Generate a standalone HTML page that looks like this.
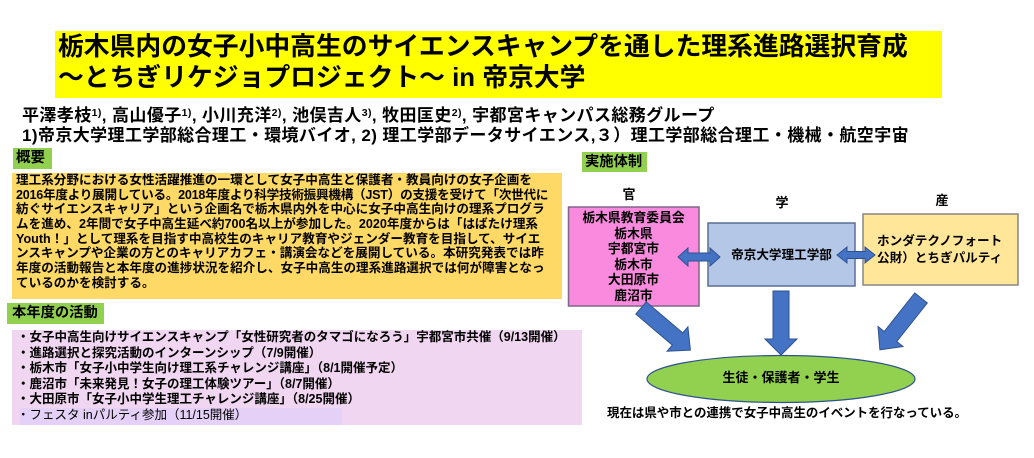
<!DOCTYPE html>
<html><head><meta charset="utf-8">
<style>
html,body{margin:0;padding:0;background:#fff;}
body{width:1034px;height:458px;position:relative;overflow:hidden;font-family:"Liberation Sans","Noto Sans CJK JP",sans-serif;font-weight:bold;color:#000;}
.a{position:absolute;white-space:nowrap;}
sup{font-size:0.62em;vertical-align:0;position:relative;top:-0.45em;}
</style></head><body>

<!-- title -->
<div class="a" style="left:55px;top:31px;width:887px;height:67px;background:#ffff00;"></div>
<div class="a" style="left:58px;top:32px;font-size:25.8px;line-height:30.5px;">栃木県内の女子小中高生のサイエンスキャンプを通した理系進路選択育成<br>～とちぎリケジョプロジェクト～ in 帝京大学</div>

<!-- authors -->
<div class="a" style="left:22px;top:106.5px;font-size:17px;line-height:18px;letter-spacing:0.4px;">平澤孝枝<sup>1)</sup>, 高山優子<sup>1)</sup>, 小川充洋<sup>2)</sup>, 池俣吉人<sup>3)</sup>, 牧田匡史<sup>2)</sup>, 宇都宮キャンパス総務グループ<br>1)帝京大学理工学部総合理工・環境バイオ, 2) 理工学部データサイエンス,３）理工学部総合理工・機械・航空宇宙</div>

<!-- 概要 -->
<div class="a" style="left:13px;top:148px;width:39px;height:21px;background:#92d050;"></div>
<div class="a" style="left:16px;top:148px;font-size:14.5px;line-height:21px;">概要</div>
<div class="a" style="left:12px;top:173px;width:550px;height:126px;background:#ffd966;"></div>
<div class="a" style="left:16px;top:173px;font-size:12.6px;line-height:14.67px;">理工系分野における女性活躍推進の一環として女子中高生と保護者・教員向けの女子企画を<br><span style="letter-spacing:-0.25px;">2016年度より展開している。2018年度より科学技術振興機構（JST）の支援を受けて「次世代に</span><br>紡ぐサイエンスキャリア」という企画名で栃木県内外を中心に女子中高生向けの理系プログラ<br>ムを進め、2年間で女子中高生延べ約700名以上が参加した。2020年度からは「はばたけ理系<br>Youth！」として理系を目指す中高校生のキャリア教育やジェンダー教育を目指して、サイエ<br>ンスキャンプや企業の方とのキャリアカフェ・講演会などを展開している。本研究発表では昨<br>年度の活動報告と本年度の進捗状況を紹介し、女子中高生の理系進路選択では何が障害となっ<br>ているのかを検討する。</div>

<!-- 本年度の活動 -->
<div class="a" style="left:7px;top:303px;width:97px;height:21px;background:#92d050;"></div>
<div class="a" style="left:12px;top:303px;font-size:14.3px;line-height:21px;">本年度の活動</div>
<div class="a" style="left:12px;top:330px;width:570px;height:95px;background:#f1d6f1;"></div>
<div class="a" style="left:20px;top:408px;width:322px;height:17px;background:#e5d0f7;"></div>
<div class="a" style="left:17px;top:330px;font-size:12.5px;line-height:15.5px;">・女子中高生向けサイエンスキャンプ「女性研究者のタマゴになろう」宇都宮市共催（9/13開催）<br>・進路選択と探究活動のインターンシップ（7/9開催）<br>・栃木市「女子小中学生向け理工系チャレンジ講座」（8/1開催予定）<br>・鹿沼市「未来発見！女子の理工体験ツアー」（8/7開催）<br>・大田原市「女子小中学生理工チャレンジ講座」（8/25開催）<br><span style="font-weight:normal;">・フェスタ inパルティ参加（11/15開催）</span></div>

<!-- 実施体制 -->
<div class="a" style="left:582px;top:152px;width:65px;height:20px;background:#92d050;"></div>
<div class="a" style="left:585px;top:152px;font-size:14.3px;line-height:20px;">実施体制</div>

<svg class="a" style="left:0;top:0;" width="1034" height="458" viewBox="0 0 1034 458">
  <rect x="568.5" y="207" width="130.5" height="99" fill="#fa8ade" stroke="#7d6688" stroke-width="1.5"/>
  <rect x="708" y="223" width="147" height="63" fill="#b4c7e7" stroke="#5a6f94" stroke-width="1.5"/>
  <rect x="863" y="214" width="155" height="71" fill="#ffe699" stroke="#858585" stroke-width="1.5"/>
  <g fill="#4472c4" stroke="#2f528f" stroke-width="1">
    <polygon points="678,257 688,248 688,253 710,253 710,248 720,257 710,266 710,261 688,261 688,266"/>
    <polygon points="837,255 847,247 847,251.5 865,251.5 865,247 875,255 865,263 865,258.5 847,258.5 847,263"/>
    <polygon points="773,291 789,291 789,339 797,339 781,355 765,339 773,339"/>
    <polygon points="646.2,301.9 682.7,332.9 687.9,326.8 690.4,350.1 667.1,351.2 672.3,345.1 635.8,314.1"/>
    <polygon points="914.7,293 884.2,331.5 878,326.5 879.9,349.8 903,346.5 896.8,341.5 927.3,303"/>
  </g>
  <ellipse cx="781" cy="379" rx="134" ry="23.5" fill="#92d050" stroke="#2f528f" stroke-width="1.2"/>
</svg>

<div class="a" style="left:619px;top:186px;width:20px;text-align:center;font-size:13px;line-height:18px;">官</div>
<div class="a" style="left:772px;top:194px;width:20px;text-align:center;font-size:13px;line-height:18px;">学</div>
<div class="a" style="left:932px;top:192px;width:20px;text-align:center;font-size:13px;line-height:18px;">産</div>

<div class="a" style="left:568px;top:210px;width:131px;text-align:center;font-size:12.8px;line-height:15.5px;">栃木県教育委員会<br>栃木県<br>宇都宮市<br>栃木市<br>大田原市<br>鹿沼市</div>
<div class="a" style="left:708px;top:246px;width:147px;text-align:center;font-size:12.6px;line-height:18px;">帝京大学理工学部</div>
<div class="a" style="left:877px;top:233px;font-size:12.6px;line-height:16.5px;">ホンダテクノフォート<br>公財）とちぎパルティ</div>

<div class="a" style="left:647px;top:369px;width:268px;text-align:center;font-size:13px;line-height:18px;">生徒・保護者・学生</div>
<div class="a" style="left:607px;top:404px;font-size:12.45px;line-height:18px;">現在は県や市との連携で女子中高生のイベントを行なっている。</div>

</body></html>
